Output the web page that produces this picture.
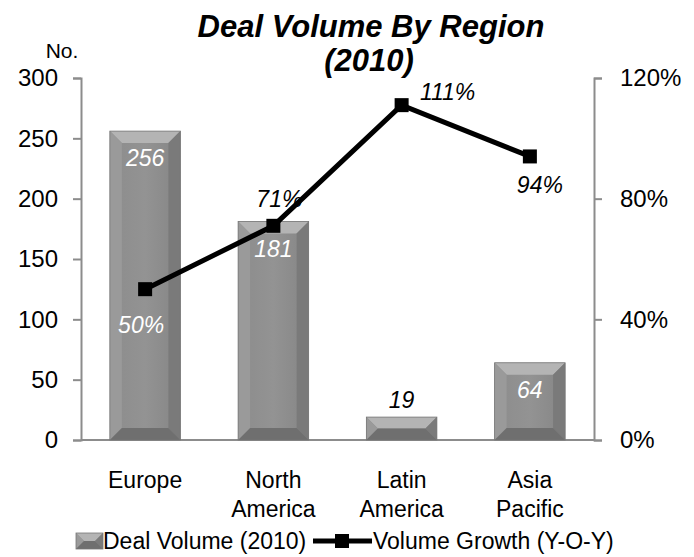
<!DOCTYPE html>
<html>
<head>
<meta charset="utf-8">
<script src="https://cdn.jsdelivr.net/npm/d3@7"></script>
<style>
  body { margin: 0; background: #fff; }
  svg text { font-family: "Liberation Sans", Arial, sans-serif; }
</style>
</head>
<body>
<div class="container"></div>
<script>
const regions = ["Europe", "North America", "Latin America", "Asia Pacific"];
const regionLines = [["Europe"], ["North", "America"], ["Latin", "America"], ["Asia", "Pacific"]];
const dealVolume = [256, 181, 19, 64];
const volumeGrowth = [0.50, 0.71, 1.11, 0.94];
const leftTicks = [0, 50, 100, 150, 200, 250, 300];
const rightTicks = [0, 0.4, 0.8, 1.2];

const width = 694;
const height = 557;
const margin = { top: 78, right: 100, bottom: 117, left: 81 };

const svg = d3
  .select(".container")
  .append("svg")
  .attr("width", width)
  .attr("height", height);

const defs = svg.append("defs");
const faceGrad = defs.append("linearGradient").attr("id", "face");
faceGrad.append("stop").attr("offset", "0%").attr("stop-color", "#8c8c8c");
faceGrad.append("stop").attr("offset", "50%").attr("stop-color", "#939393");
faceGrad.append("stop").attr("offset", "100%").attr("stop-color", "#858585");

const xScale = d3
  .scaleBand()
  .domain(regions)
  .range([margin.left, width - margin.right])
  .paddingInner(0.45)
  .paddingOuter(0.225);

const yLeft = d3
  .scaleLinear()
  .domain([0, 300])
  .range([height - margin.bottom, margin.top]);

const yRight = d3
  .scaleLinear()
  .domain([0, 1.2])
  .range([height - margin.bottom, margin.top]);

// Title
svg
  .append("text")
  .attr("x", 371)
  .attr("y", 37)
  .attr("text-anchor", "middle")
  .style("font-size", "31px")
  .style("font-weight", "bold")
  .style("font-style", "italic")
  .text("Deal Volume By Region");
svg
  .append("text")
  .attr("x", 369)
  .attr("y", 71)
  .attr("text-anchor", "middle")
  .style("font-size", "31px")
  .style("font-weight", "bold")
  .style("font-style", "italic")
  .text("(2010)");

svg
  .append("text")
  .attr("x", 62)
  .attr("y", 58)
  .attr("text-anchor", "middle")
  .style("font-size", "21px")
  .text("No.");

// Axes
const leftAxis = d3
  .axisLeft(yLeft)
  .tickValues(leftTicks)
  .tickSize(8)
  .tickPadding(15);

const gl = svg
  .append("g")
  .attr("transform", "translate(" + margin.left + ",0)")
  .call(leftAxis);

const rightAxis = d3
  .axisRight(yRight)
  .tickValues(rightTicks)
  .tickSize(8)
  .tickPadding(18)
  .tickFormat(d3.format(".0%"));

const gr = svg
  .append("g")
  .attr("transform", "translate(" + (width - margin.right) + ",0)")
  .call(rightAxis);

[gl, gr].forEach((g) => {
  g.select(".domain").attr("stroke", "#8c8c8c").attr("stroke-width", 2);
  g.selectAll(".tick line").attr("stroke", "#8c8c8c").attr("stroke-width", 2);
  g.selectAll(".tick text")
    .attr("fill", "#000")
    .style("font-size", "24px")
    .style("font-family", "Liberation Sans, Arial, sans-serif");
});

// Baseline
svg
  .append("line")
  .attr("x1", margin.left)
  .attr("x2", width - margin.right)
  .attr("y1", yLeft(0))
  .attr("y2", yLeft(0))
  .attr("stroke", "#8c8c8c")
  .attr("stroke-width", 2);

// Bevelled bars
const drawBevelBar = (g, x0, y0, w, h) => {
  const b = Math.min(12, h / 2, w / 2);
  const x1 = x0 + w;
  const y1 = y0 + h;
  const pts = (arr) => arr.map((p) => p.join(",")).join(" ");
  g.append("rect")
    .attr("x", x0)
    .attr("y", y0)
    .attr("width", w)
    .attr("height", h)
    .attr("fill", "url(#face)");
  g.append("polygon")
    .attr("points", pts([[x0, y0], [x1, y0], [x1 - b, y0 + b], [x0 + b, y0 + b]]))
    .attr("fill", "#b4b4b4");
  g.append("polygon")
    .attr("points", pts([[x0, y0], [x0 + b, y0 + b], [x0 + b, y1 - b], [x0, y1]]))
    .attr("fill", "#9a9a9a");
  g.append("polygon")
    .attr("points", pts([[x1, y0], [x1, y1], [x1 - b, y1 - b], [x1 - b, y0 + b]]))
    .attr("fill", "#7a7a7a");
  g.append("polygon")
    .attr("points", pts([[x0, y1], [x0 + b, y1 - b], [x1 - b, y1 - b], [x1, y1]]))
    .attr("fill", "#6f6f6f");
  g.append("rect")
    .attr("x", x0)
    .attr("y", y0)
    .attr("width", w)
    .attr("height", h)
    .attr("fill", "none")
    .attr("stroke", "#777")
    .attr("stroke-width", 0.8);
};

const bars = svg.append("g");
regions.forEach((r, i) => {
  const y0 = yLeft(dealVolume[i]);
  drawBevelBar(bars, xScale(r), y0, xScale.bandwidth(), yLeft(0) - y0);
});

// Bar labels
svg
  .append("g")
  .selectAll("text")
  .data(dealVolume)
  .enter()
  .append("text")
  .attr("x", (d, i) => xScale(regions[i]) + xScale.bandwidth() / 2)
  .attr("y", (d) => (d < 40 ? yLeft(d) - 9 : yLeft(d) + 35))
  .attr("text-anchor", "middle")
  .attr("fill", (d) => (d < 40 ? "#000" : "#fff"))
  .style("font-size", "23px")
  .style("font-style", "italic")
  .text((d) => d);

// Line
const cx = (i) => xScale(regions[i]) + xScale.bandwidth() / 2;
const line = d3
  .line()
  .x((d, i) => cx(i))
  .y((d) => yRight(d));

svg
  .append("path")
  .datum(volumeGrowth)
  .attr("d", line)
  .attr("fill", "none")
  .attr("stroke", "#000")
  .attr("stroke-width", 5);

svg
  .append("g")
  .selectAll("rect")
  .data(volumeGrowth)
  .enter()
  .append("rect")
  .attr("x", (d, i) => cx(i) - 7)
  .attr("y", (d) => yRight(d) - 7)
  .attr("width", 14)
  .attr("height", 14)
  .attr("fill", "#000");

// Growth labels
const growthOffsets = [
  { dx: -4, dy: 44, fill: "#fff" },
  { dx: 6, dy: -19, fill: "#000" },
  { dx: 46, dy: -5, fill: "#000" },
  { dx: 10, dy: 37, fill: "#000" },
];
svg
  .append("g")
  .selectAll("text")
  .data(volumeGrowth)
  .enter()
  .append("text")
  .attr("x", (d, i) => cx(i) + growthOffsets[i].dx)
  .attr("y", (d, i) => yRight(d) + growthOffsets[i].dy)
  .attr("text-anchor", "middle")
  .attr("fill", (d, i) => growthOffsets[i].fill)
  .style("font-size", "23px")
  .style("font-style", "italic")
  .text((d) => d3.format(".0%")(d));

// Category labels
const cats = svg.append("g");
regionLines.forEach((lines, i) => {
  lines.forEach((t, j) => {
    cats
      .append("text")
      .attr("x", cx(i))
      .attr("y", 488 + j * 29)
      .attr("text-anchor", "middle")
      .style("font-size", "23px")
      .text(t);
  });
});

// Legend
const legend = svg.append("g").attr("transform", "translate(0, 541)");
drawBevelBar(legend, 76, -8, 27, 16);
legend
  .append("text")
  .attr("x", 103)
  .attr("y", 8)
  .style("font-size", "23px")
  .text("Deal Volume (2010)");
legend
  .append("line")
  .attr("x1", 313)
  .attr("x2", 372)
  .attr("y1", 0)
  .attr("y2", 0)
  .attr("stroke", "#000")
  .attr("stroke-width", 5);
legend
  .append("rect")
  .attr("x", 335)
  .attr("y", -7)
  .attr("width", 14)
  .attr("height", 14)
  .attr("fill", "#000");
legend
  .append("text")
  .attr("x", 373)
  .attr("y", 8)
  .style("font-size", "23px")
  .text("Volume Growth (Y-O-Y)");
</script>
</body>
</html>
